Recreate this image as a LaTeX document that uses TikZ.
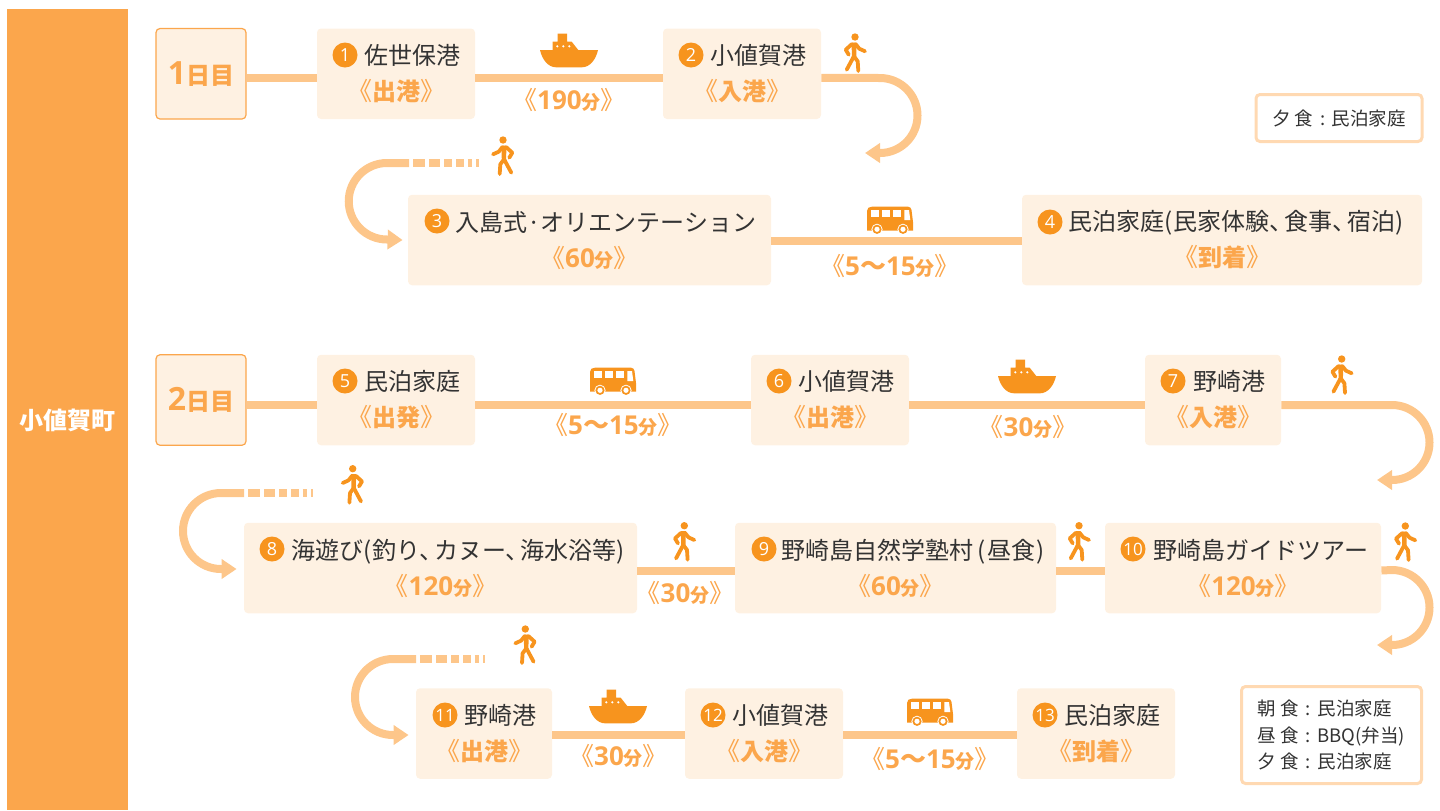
\documentclass[tikz,border=0pt]{standalone}
\usepackage{fontspec}
\usepackage{xcolor}
\setmainfont{Noto Sans CJK JP}
\newfontfamily\latinfont{Open Sans}
\usetikzlibrary{arrows.meta}

\definecolor{sidecol}{HTML}{FBA64C}
\definecolor{boxcol}{HTML}{FEF1E2}
\definecolor{linecol}{HTML}{FDC68A}
\definecolor{iconcol}{HTML}{F7941E}
\definecolor{notecol}{HTML}{FFD9B2}
\definecolor{inkcol}{HTML}{333333}

\newcommand{\subt}[1]{{\color{sidecol}\fontsize{12.5}{18}\selectfont 《{\bfseries\fontsize{12}{18}\selectfont #1}》}}
\newcommand{\mins}[1]{{\color{sidecol}\fontsize{12.5}{18}\selectfont 《{\bfseries\latinfont\fontsize{13}{18}\selectfont #1}{\bfseries\fontsize{9.5}{18}\selectfont 分}》}}
\newcommand{\wave}{{\fontfamily{\rmdefault}\selectfont ～}}
\newcommand{\stopt}[2][16pt]{\hspace*{#1}#2}
\newcommand{\tenmark}{、\kern-4.5pt}
\newcommand{\daylabel}[1]{{\latinfont\fontsize{16}{20}\selectfont #1}日目}
\newcommand{\mealrow}[2]{#1\hspace{2pt}食\hspace{3.5pt}:\hspace{3.25pt}#2}

\tikzset{
  stopbox/.style={fill=boxcol, rounded corners=2pt, inner sep=0pt, minimum height=45.25pt, align=center,
    text=inkcol, font=\fontsize{12}{18}\selectfont},
  daybox/.style={stopbox, draw=sidecol, line width=0.6pt, minimum width=45pt, text=sidecol, font=\bfseries\fontsize{12}{20}\selectfont},
  badge/.style={circle, fill=iconcol, inner sep=0pt, minimum size=12.5pt, text=white, font=\latinfont\fontsize{9}{9}\selectfont},
  smallbadge/.style={badge, font=\latinfont\fontsize{8.5}{8.5}\selectfont},
  timelabel/.style={inner sep=0pt},
  notebox/.style={draw=notecol, line width=1.5pt, fill=white, rounded corners=2pt, inner sep=0pt, align=left,
    text=inkcol, font=\fontsize{9.25}{13.4}\selectfont},
  trackline/.style={draw=linecol, line width=4pt},
  looptip/.style={-{Triangle[length=7.5pt,width=9.5pt]}},
  fadedash/.style={dash pattern=on 6pt off 2pt on 5.5pt off 2pt on 4pt off 2pt on 3.75pt off 2pt on 2.25pt off 2pt on 2pt off 9pt},
  shipicon/.pic={
    \fill[iconcol] (-29,-17.3)--(29,-17.3) .. controls (27,-8) and (21,0) .. (13,0)--(-13,0) .. controls (-21,0) and (-27,-8) .. (-29,-17.3)--cycle;
    \fill[iconcol] (-16.3,-17)--(-16.3,-25.6)--(-11.3,-25.6)--(-11.3,-33.6)--(-2,-33.6)--(-2,-25.6)--(2.7,-25.6)--(9.5,-17)--cycle;
    \fill[white] (-11.7,-21) circle (1.2);
    \fill[white] (-5.7,-21) circle (1.2);
    \fill[white] (0.3,-21) circle (1.2);
  },
  busicon/.pic={
    \fill[iconcol] (-23,-3.3)--(-23,-23) .. controls (-23,-26) and (-21,-27.3) .. (-18,-27.3)--(18,-27.3) .. controls (20,-27.3) and (21,-26) .. (21.5,-24)--(23,-12)--(23,-3.3)--cycle;
    \fill[white] (-19,-24) rectangle (-10.7,-17.3);
    \fill[white] (-8.3,-24) rectangle (0.3,-17.3);
    \fill[white] (3,-24) rectangle (11.3,-17.3);
    \fill[white] (14.3,-24)--(19,-24)--(20.3,-14)--(14.3,-14)--cycle;
    \fill[white] (-13,-4.7) circle (5.6);
    \fill[iconcol] (-13,-4.7) circle (4.6);
    \fill[white] (-13,-4.7) circle (2.6);
    \fill[white] (13,-4.7) circle (5.6);
    \fill[iconcol] (13,-4.7) circle (4.6);
    \fill[white] (13,-4.7) circle (2.6);
  },
  walkicon/.pic={
    \fill[iconcol] (0,0) circle (3.7);
    \draw[iconcol, line width=1.9pt, line cap=round, line join=round] (-3,7)--(-9.3,12.7)--(-6.3,17.7);
    \draw[iconcol, line width=1.9pt, line cap=round, line join=round] (0.5,7)--(4.3,11.7)--(10,14.3);
    \fill[iconcol] (-3.5,5.5)--(1.5,5.5)--(1.2,21)--(-3,21)--cycle;
    \draw[iconcol, line width=1.9pt, line cap=round, line join=round] (-1.5,20)--(-8.3,32.7);
    \draw[iconcol, line width=1.9pt, line cap=round, line join=round] (-0.5,20)--(2.7,24.3)--(3.3,34);
  },
}

\begin{document}
\begin{tikzpicture}[x=0.5pt, y=-0.5pt]
      \useasboundingbox (0,0) rectangle (1440,810);

      % side bar
      \fill[sidecol] (7,9) rectangle (128,810);
      \node[text=white, font=\bfseries\fontsize{12}{14}\selectfont, inner sep=0pt] (town) at (67,420) {小値賀町};

      % first day, upper row
      \node[daybox] (day1) at (201,73.75) {\daylabel{1}};
      \node[stopbox, minimum width=79pt] (s1) at (396,73.75) {\stopt{佐世保港}\\\subt{出港}};
      \node[stopbox, minimum width=79pt] (s2) at (742,73.75) {\stopt{小値賀港}\\\subt{入港}};
      \node[badge] (b1) at (345,55) {1};
      \node[badge] (b2) at (691,55) {2};
      \draw[trackline] ([yshift=-2pt]day1.east) -- ([yshift=-2pt]s1.west);
      \draw[trackline] ([yshift=-2pt]s1.east) -- ([yshift=-2pt]s2.west);
      \node[timelabel] (t1) at (569,100) {\mins{190}};
      \pic at (569,67.3) {shipicon};
      \pic at (855,37) {walkicon};

      % down to the lower row
      \coordinate (r2) at (865,153);
      \draw[trackline, looptip] ([yshift=-2pt]s2.east) -- (880,78) arc[start angle=-90, end angle=90, radius=37.5] -- (r2);
      \node[notebox, minimum width=83pt, minimum height=23.5pt] (n1) at (1339,118) {\mealrow{夕}{民泊家庭}};

      % first day, lower row
      \node[stopbox, minimum width=181.5pt] (s3) at (589.5,240) {\stopt{入島式·オリエンテーション}\\\mins{60}};
      \node[stopbox, minimum width=200pt] (s4) at (1222,240) {\stopt[14pt]{民泊家庭(民家体験\tenmark 食事\tenmark 宿泊)}\\\subt{到着}};
      \node[badge] (b3) at (437,221) {3};
      \node[badge] (b4) at (1050,222) {4};
      \draw[trackline] ([yshift=-0.5pt]s3.east) -- ([yshift=-0.5pt]s4.west);
      \node[timelabel] (t2) at (890,266) {\mins{5\wave 15}};
      \pic at (890,234) {busicon};
      \pic[xscale=-1] at (503,140) {walkicon};

      % loop into the third stop
      \coordinate (d3a) at (413,163);
      \coordinate (d3b) at (479,163);
      \coordinate (e3) at (409,163);
      \draw[trackline, fadedash] (d3a) -- (d3b);
      \draw[trackline, looptip] (e3) -- (387,163) arc[start angle=-90, end angle=-270, radius=38.25] -- ([xshift=-2.5pt]s3.west);

      % second day, upper row
      \node[daybox] (day2) at (201,400) {\daylabel{2}};
      \node[stopbox, minimum width=79pt] (s5) at (396,400) {\stopt{民泊家庭}\\\subt{出発}};
      \node[stopbox, minimum width=79pt] (s6) at (830,400) {\stopt{小値賀港}\\\subt{出港}};
      \node[stopbox, minimum width=68pt] (s7) at (1213,400) {\stopt{野崎港}\\\subt{入港}};
      \node[badge] (b5) at (345,381) {5};
      \node[badge] (b6) at (779,381) {6};
      \node[badge] (b7) at (1173,381) {7};
      \draw[trackline] ([yshift=-2.5pt]day2.east) -- ([yshift=-2.5pt]s5.west);
      \draw[trackline] ([yshift=-2.5pt]s5.east) -- ([yshift=-2.5pt]s6.west);
      \draw[trackline] ([yshift=-2.5pt]s6.east) -- ([yshift=-2.5pt]s7.west);
      \node[timelabel] (t3) at (613,425) {\mins{5\wave 15}};
      \node[timelabel] (t4) at (1028,427) {\mins{30}};
      \pic at (613,395) {busicon};
      \pic at (1027,393.3) {shipicon};
      \pic at (1341.7,359) {walkicon};

      % down to the middle row
      \coordinate (r7) at (1377,480);
      \draw[trackline, looptip] ([yshift=-2.5pt]s7.east) -- (1392,405) arc[start angle=-90, end angle=90, radius=37.5] -- (r7);

      % second day, middle row
      \node[stopbox, minimum width=196.5pt] (s8) at (440.5,568) {\stopt[18pt]{海遊び(釣り\tenmark カヌー\tenmark 海水浴等)}\\\mins{120}};
      \node[stopbox, minimum width=160.5pt] (s9) at (895.5,568) {\stopt[19.5pt]{野崎島自然学塾村\kern1.75pt(\kern0.75pt昼食\kern0.75pt)\kern1.75pt}\\\mins{60}};
      \node[stopbox, minimum width=138pt] (s10) at (1243,568) {\stopt[18pt]{野崎島ガイドツアー}\\\mins{120}};
      \node[badge] (b8) at (272,549) {8};
      \node[badge] (b9) at (764,549) {9};
      \node[smallbadge] (b10) at (1133,549) {10};
      \draw[trackline] ([yshift=-1.25pt]s8.east) -- ([yshift=-1.25pt]s9.west);
      \draw[trackline] ([yshift=-1.25pt]s9.east) -- ([yshift=-1.25pt]s10.west);
      \node[timelabel] (t5) at (685,593) {\mins{30}};
      \pic at (684.3,525.7) {walkicon};
      \pic at (1079,525.7) {walkicon};
      \pic at (1405.3,526) {walkicon};
      \pic[xscale=-1] at (352.7,468.7) {walkicon};

      % loop into the eighth stop
      \coordinate (d8a) at (248,493);
      \coordinate (d8b) at (313,493);
      \coordinate (e8) at (244,493);
      \draw[trackline, fadedash] (d8a) -- (d8b);
      \draw[trackline, looptip] (e8) -- (221,493) arc[start angle=-90, end angle=-270, radius=38] -- ([xshift=-3.5pt,yshift=-0.5pt]s8.west);

      % down to the last row
      \coordinate (r10) at (1377,645);
      \draw[trackline, looptip] ([yshift=-1.25pt]s10.east) -- (1392,570) arc[start angle=-90, end angle=90, radius=37.5] -- (r10);

      % second day, last row
      \node[stopbox, minimum width=68pt] (s11) at (484,733.5) {\stopt{野崎港}\\\subt{出港}};
      \node[stopbox, minimum width=79pt] (s12) at (764,733.5) {\stopt{小値賀港}\\\subt{入港}};
      \node[stopbox, minimum width=79pt] (s13) at (1096,733.5) {\stopt{民泊家庭}\\\subt{到着}};
      \node[smallbadge] (b11) at (445,715) {11};
      \node[smallbadge] (b12) at (713,715) {12};
      \node[smallbadge] (b13) at (1045,715) {13};
      \draw[trackline] ([yshift=-0.75pt]s11.east) -- ([yshift=-0.75pt]s12.west);
      \draw[trackline] ([yshift=-0.75pt]s12.east) -- ([yshift=-0.75pt]s13.west);
      \node[timelabel] (t6) at (618.5,756) {\mins{30}};
      \node[timelabel] (t7) at (930,759) {\mins{5\wave 15}};
      \pic at (618,723.3) {shipicon};
      \pic at (930,726) {busicon};
      \pic[xscale=-1] at (525.3,629) {walkicon};

      % loop into the eleventh stop
      \coordinate (d11a) at (420,659);
      \coordinate (d11b) at (485,659);
      \coordinate (e11) at (416,659);
      \draw[trackline, fadedash] (d11a) -- (d11b);
      \draw[trackline, looptip] (e11) -- (393,659) arc[start angle=-90, end angle=-270, radius=38] -- ([xshift=-3.5pt,yshift=-0.75pt]s11.west);

      \node[notebox, minimum width=90pt, minimum height=48.5pt] (n2) at (1331.5,735) {\mealrow{朝}{民泊家庭}\\\mealrow{昼}{BBQ(弁当)}\\\mealrow{夕}{民泊家庭}};
    \end{tikzpicture}
\end{document}
